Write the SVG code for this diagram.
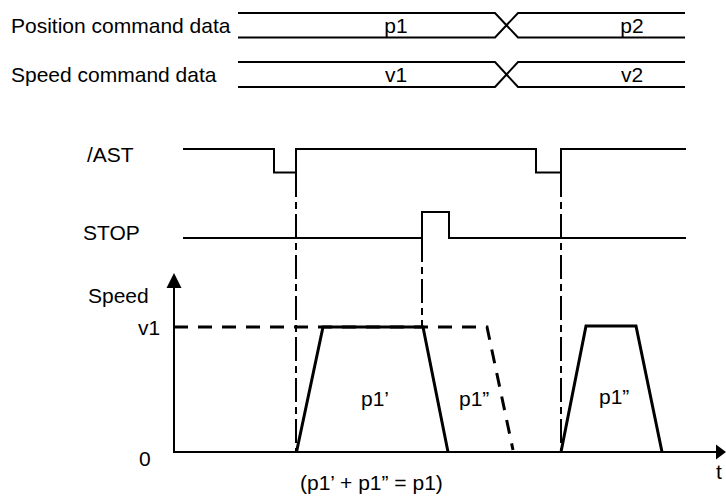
<svg xmlns="http://www.w3.org/2000/svg" width="726" height="497" viewBox="0 0 726 497">
<style>
text{font-family:"Liberation Sans",Arial,sans-serif;font-size:21px;fill:#000}
.sig{fill:none;stroke:#000;stroke-width:2}
.prof{fill:none;stroke:#000;stroke-width:3;stroke-linejoin:miter}
.dash{fill:none;stroke:#000;stroke-width:3;stroke-dasharray:14 10}
.dd{fill:none;stroke:#000;stroke-width:2;stroke-dasharray:24 5 7 5}
.mid{text-anchor:middle}
</style>
<rect width="726" height="497" fill="#fff"/>
<g id="labels">
<text x="11" y="33">Position command data</text>
<text x="11" y="82">Speed command data</text>
<text x="87" y="162">/AST</text>
<text x="83" y="240">STOP</text>
<text x="88" y="303">Speed</text>
<text x="138" y="335">v1</text>
<text x="139" y="466">0</text>
<text x="716" y="479">t</text>
</g>
<g id="position-data">
<path class="sig" d="M238,13 H495 L518,37.5 H685 M238,37.5 H495 L518,13 H685"/>
<text class="mid" x="396" y="33">p1</text>
<text class="mid" x="632" y="33">p2</text>
</g>
<g id="speed-data">
<path class="sig" d="M238,62 H495 L518,87 H685 M238,87 H495 L518,62 H685"/>
<text class="mid" x="396" y="82">v1</text>
<text class="mid" x="632" y="82">v2</text>
</g>
<g id="ast">
<path class="sig" d="M183,149 H274 V172.5 H296 V149 H536 V172.5 H561 V149 H686"/>
</g>
<g id="stop">
<path class="sig" d="M183,238 H422 V212 H449 V238 H686"/>
</g>
<g id="axes">
<path class="sig" d="M174,286 V452 H716"/>
<polygon points="174,273 166.5,288 181.5,288"/>
<polygon points="726,452 716,444.5 716,459.5"/>
</g>
<g id="connectors">
<path class="dd" d="M296,173 V452"/>
<path class="dd" d="M422,238 V327"/>
<path class="dd" d="M561,173 V452"/>
</g>
<g id="profile-1">
<path class="dash" d="M174,327 H487 L513,450"/>
<path class="prof" d="M296.5,452 L323,327 H423 L448,452"/>
<text x="361" y="406">p1’</text>
<text x="459" y="406">p1”</text>
</g>
<g id="profile-2">
<path class="prof" d="M561,452 L586,326 H636 L662,452"/>
<text x="599" y="404">p1”</text>
</g>
<text x="300" y="490">(p1’ + p1” = p1)</text>
</svg>
